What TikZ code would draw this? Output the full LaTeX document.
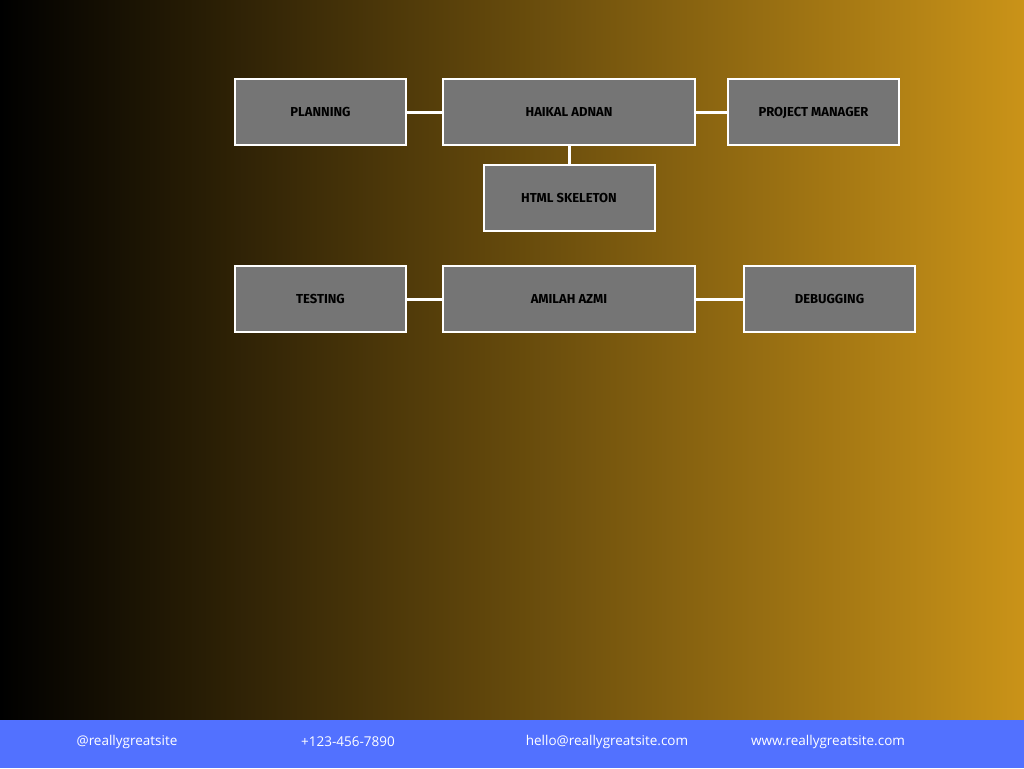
\documentclass[tikz,border=0pt]{standalone}
\usepackage{fontspec}
\setmainfont{Open Sans}
\newfontfamily\labelfont{Fira Sans}
\definecolor{gold}{RGB}{202,147,24}
\definecolor{boxgray}{RGB}{117,117,117}
\definecolor{footblue}{RGB}{82,113,255}
\tikzset{
  rolebox/.style={draw=white, line width=2pt, fill=boxgray, inner sep=0pt,
    minimum height=66pt, text height=9pt, text depth=0pt,
    font=\labelfont\bfseries\fontsize{13}{15}\selectfont, text=black},
  narrowbox/.style={rolebox, minimum width=171pt},
  widebox/.style={rolebox, minimum width=252pt},
  link/.style={draw=white, line width=3pt},
  foot/.style={font=\fontsize{13.5}{16}\selectfont, text=white, inner sep=0pt}
}
\begin{document}
\begin{tikzpicture}[x=1pt,y=-1pt]
  % background gradient and footer band
  \shade[left color=black, right color=gold] (0,0) rectangle (1024,720);
  \fill[footblue] (0,720) rectangle (1024,768);
  \useasboundingbox (0,0) rectangle (1024,768);

  % first team: Haikal Adnan
  \node[narrowbox] (plan) at (320.5,112) {PLANNING};
  \node[widebox]   (haikal) at (569,112) {HAIKAL ADNAN};
  \node[narrowbox] (pm) at (813.5,112) {PROJECT MANAGER};
  \node[narrowbox] (html) at (569,198) {HTML SKELETON};

  % second team: Amilah Azmi
  \node[narrowbox] (test) at (320.5,299) {TESTING};
  \node[widebox]   (amilah) at (569,299) {AMILAH AZMI};
  \node[narrowbox] (debug) at (829.5,299) {DEBUGGING};

  % connectors
  \draw[link] (plan.east) -- (haikal.west);
  \draw[link] (haikal.east) -- (pm.west);
  \draw[link] (haikal.south) -- (html.north);
  \draw[link] (test.east) -- (amilah.west);
  \draw[link] (amilah.east) -- (debug.west);

  % contact details
  \node[foot] (social) at (127,742) {@reallygreatsite};
  \node[foot] (phone) at (348,742) {+123-456-7890};
  \node[foot] (mail) at (607,742) {hello@reallygreatsite.com};
  \node[foot] (web) at (828,742) {www.reallygreatsite.com};
\end{tikzpicture}
\end{document}
